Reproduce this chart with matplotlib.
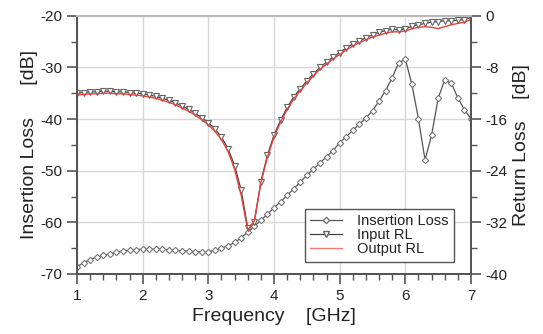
import numpy as np
from matplotlib import pyplot as plt
from matplotlib.ticker import MultipleLocator
from matplotlib.lines import Line2D

plt.rcParams['font.family'] = ['Liberation Sans', 'DejaVu Sans']
plt.rcParams['axes.unicode_minus'] = False

# frequency grid [GHz], 0.1 GHz step
freq = [1.0, 1.1, 1.2, 1.3, 1.4, 1.5, 1.6, 1.7, 1.8, 1.9,
        2.0, 2.1, 2.2, 2.3, 2.4, 2.5, 2.6, 2.7, 2.8, 2.9,
        3.0, 3.1, 3.2, 3.3, 3.4, 3.5, 3.6, 3.7, 3.8, 3.9,
        4.0, 4.1, 4.2, 4.3, 4.4, 4.5, 4.6, 4.7, 4.8, 4.9,
        5.0, 5.1, 5.2, 5.3, 5.4, 5.5, 5.6, 5.7, 5.8, 5.9,
        6.0, 6.1, 6.2, 6.3, 6.4, 6.5, 6.6, 6.7, 6.8, 6.9, 7.0]

# insertion loss [dB] (left axis)
insertion_loss = [-68.6, -67.8, -67.2, -66.7, -66.4, -66.1, -65.8, -65.6, -65.4, -65.3,
                  -65.2, -65.2, -65.2, -65.2, -65.3, -65.4, -65.5, -65.6, -65.7, -65.7,
                  -65.7, -65.4, -65.0, -64.5, -63.9, -63.0, -61.9, -60.8, -59.6, -58.4,
                  -57.2, -56.0, -54.8, -53.5, -52.2, -50.9, -49.7, -48.5, -47.3, -46.1,
                  -44.6, -43.4, -42.2, -41.0, -39.8, -38.4, -36.5, -34.5, -32.0, -29.1,
                  -28.4, -33.3, -40.0, -47.9, -43.1, -36.0, -32.4, -33.1, -35.9, -38.2, -40.0]

# return loss [dB] (right axis)
input_rl = [-12.0, -11.9, -11.8, -11.8, -11.7, -11.7, -11.8, -11.8, -11.9, -12.0,
            -12.1, -12.3, -12.5, -12.8, -13.1, -13.5, -14.0, -14.5, -15.1, -15.8,
            -16.6, -17.5, -18.8, -20.6, -23.2, -27.0, -32.8, -32.0, -25.7, -21.6,
            -18.5, -16.2, -14.2, -12.6, -11.3, -10.1, -9.0, -8.0, -7.2, -6.4,
            -5.7, -5.0, -4.4, -3.9, -3.4, -3.0, -2.6, -2.3, -2.1, -2.2,
            -2.1, -1.6, -1.4, -1.2, -1.0, -0.9, -0.8, -0.8, -0.7, -0.6, -0.3]

output_rl = [-12.3, -12.2, -12.1, -12.1, -12.0, -12.0, -12.1, -12.1, -12.2, -12.3,
             -12.4, -12.6, -12.8, -13.1, -13.4, -13.8, -14.3, -14.8, -15.4, -16.1,
             -16.9, -17.9, -19.2, -21.0, -23.8, -27.8, -33.2, -31.8, -25.9, -21.9,
             -18.8, -16.5, -14.5, -12.9, -11.6, -10.4, -9.3, -8.3, -7.5, -6.7,
             -6.0, -5.3, -4.7, -4.2, -3.7, -3.3, -3.0, -2.7, -2.5, -2.5,
             -2.4, -2.0, -1.8, -1.7, -1.8, -2.0, -1.7, -1.4, -1.2, -1.0, -0.6]

txt = '#222222'
axc = '#555555'

fig = plt.figure(figsize=(5.43, 3.34), dpi=100)
ax = fig.add_axes([77 / 543, 1 - 274 / 334, 394 / 543, 258.3 / 334])
ax2 = ax.twinx()

ax.plot(freq, insertion_loss, color='#555555', lw=0.9, marker='D', ms=3.2,
        mfc='white', mec='#777777', mew=0.8)
ax2.plot(freq, input_rl, color='#444444', lw=0.9, marker='v', ms=4.5,
         mfc='white', mec='#666666', mew=0.8)
ax2.plot(freq, output_rl, color='#e8403a', lw=1.0)

ax.set_xlim(1, 7)
ax.set_ylim(-70, -20)
ax2.set_ylim(-40, 0)

ax.xaxis.set_major_locator(MultipleLocator(1))
ax.xaxis.set_minor_locator(MultipleLocator(0.2))
ax.yaxis.set_major_locator(MultipleLocator(10))
ax.yaxis.set_minor_locator(MultipleLocator(5))
ax2.yaxis.set_major_locator(MultipleLocator(8))
ax2.yaxis.set_minor_locator(MultipleLocator(4))

ax.grid(True, which='major', color='#d8d8d8', lw=1.0)
ax.set_axisbelow(True)

for a in (ax, ax2):
    a.tick_params(which='major', length=7, width=1.2, color=axc,
                  labelsize=11, labelcolor=txt, direction='out')
    a.tick_params(which='minor', length=4, width=1.0, color=axc, direction='out')
    for s in ('left', 'bottom', 'right'):
        a.spines[s].set_color(axc)
        a.spines[s].set_linewidth(1.4)
    a.spines['top'].set_color('#bbbbbb')
    a.spines['top'].set_linewidth(1.4)

ax.set_xlabel('Frequency    [GHz]', fontsize=14, color=txt, labelpad=4)
ax.set_ylabel('Insertion Loss      [dB]', fontsize=14, color=txt, labelpad=2)
ax2.set_ylabel('Return Loss    [dB]', fontsize=14, color=txt, labelpad=4)

handles = [
    Line2D([], [], color='#555555', lw=0.9, marker='D', ms=3.2, mfc='white', mec='#777777'),
    Line2D([], [], color='#444444', lw=0.9, marker='v', ms=4.5, mfc='white', mec='#666666'),
    Line2D([], [], color='#f07a75', lw=1.0),
]
leg = ax2.legend(handles, ['Insertion Loss', 'Input RL', 'Output RL'],
                 loc='upper left', bbox_to_anchor=(0.579, 0.2505), borderaxespad=0,
                 fontsize=10.5, frameon=True, fancybox=False, framealpha=1,
                 edgecolor='#555555', handlelength=2.2, handletextpad=1.0,
                 labelspacing=0.0, borderpad=0.35)
leg.get_frame().set_linewidth(1.0)
for t in leg.get_texts():
    t.set_color(txt)

fig.savefig('out.png', dpi=100)
